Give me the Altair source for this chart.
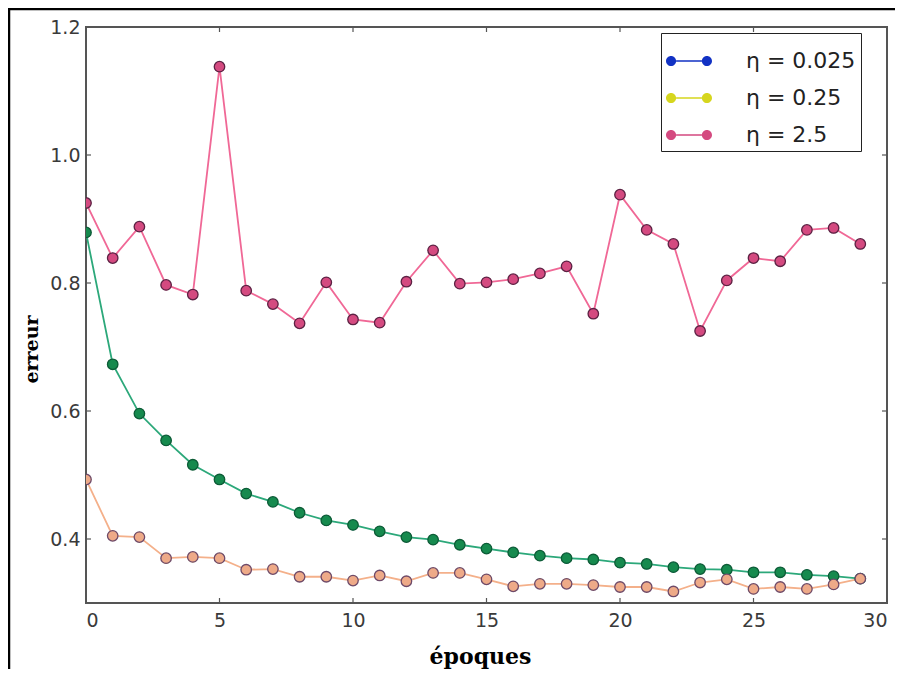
import altair as alt
import pandas as pd

epochs = list(range(30))
err_0025 = [0.879, 0.673, 0.596, 0.554, 0.516, 0.493, 0.471, 0.458, 0.441, 0.429,
            0.422, 0.412, 0.403, 0.399, 0.391, 0.385, 0.379, 0.374, 0.370, 0.368,
            0.363, 0.361, 0.356, 0.353, 0.352, 0.348, 0.348, 0.344, 0.342, 0.338]
err_025 = [0.493, 0.405, 0.403, 0.370, 0.372, 0.370, 0.352, 0.353, 0.341, 0.341,
           0.335, 0.343, 0.334, 0.347, 0.347, 0.337, 0.326, 0.330, 0.330, 0.328,
           0.325, 0.325, 0.318, 0.332, 0.337, 0.322, 0.325, 0.322, 0.329, 0.338]
err_25 = [0.925, 0.839, 0.888, 0.797, 0.782, 1.138, 0.788, 0.767, 0.737, 0.801,
          0.743, 0.738, 0.802, 0.851, 0.799, 0.801, 0.806, 0.815, 0.826, 0.752,
          0.938, 0.883, 0.861, 0.725, 0.804, 0.839, 0.834, 0.883, 0.886, 0.861]
labels = ["η = 0.025", "η = 0.25", "η = 2.5"]
x_ticks = [0, 5, 10, 15, 20, 25, 30]
y_ticks = [0.4, 0.6, 0.8, 1.0, 1.2]

legend_colors = ["#1232c4", "#d6d61e", "#d44a80"]
line_colors = ["#2ca87a", "#f4b08a", "#f06896"]
fill_colors = ["#168a4e", "#eeaa88", "#d44a80"]
edge_colors = ["#0e5c36", "#6e4a6a", "#5c2344"]

rows = []
for lab, ser in zip(labels, [err_0025, err_025, err_25]):
    for e, v in zip(epochs, ser):
        rows.append({"epoch": e, "err": v, "eta": lab})
df = pd.DataFrame(rows)
xdf = pd.DataFrame({"epoch": x_ticks})
ydf = pd.DataFrame({"err": y_ticks})
one = pd.DataFrame({"k": [0]})

W, H = 801, 576

xs = alt.Scale(domain=[0, 30], nice=False, zero=False)
ys = alt.Scale(domain=[0.3, 1.2], nice=False, zero=False)

X = alt.X("epoch:Q", scale=xs, axis=alt.Axis(
    values=x_ticks, title="époques", labelPadding=8,
    titleFont="DejaVu Serif", titleFontSize=22, titleFontWeight="bold",
    titleColor="black", titleX=394, titleY=60, titleBaseline="alphabetic"))
Y = alt.Y("err:Q", scale=ys, axis=alt.Axis(
    values=y_ticks, format=".1f", title="erreur", labelPadding=6,
    titleFont="DejaVu Serif", titleFontSize=19, titleFontWeight="bold",
    titleColor="black", titleX=-45, titleY=322))

sym_path = ("M -0.56 0 A 0.22 0.22 0 1 1 -1 0 A 0.22 0.22 0 1 1 -0.56 0 Z "
            "M 1 0 A 0.22 0.22 0 1 1 0.56 0 A 0.22 0.22 0 1 1 1 0 Z "
            "M -0.56 -0.035 L 0.56 -0.035 L 0.56 0.035 L -0.56 0.035 Z")

legend_layer = alt.Chart(df).mark_point(filled=True, size=110, opacity=1, clip=True).encode(
    x=X, y=Y,
    fill=alt.Fill("eta:N", scale=alt.Scale(domain=labels, range=legend_colors),
                  legend=alt.Legend(
                      title=None, orient="none", legendX=575, legendY=6,
                      symbolType=sym_path, symbolSize=2116, symbolStrokeWidth=0,
                      labelFont="DejaVu Sans", labelFontSize=22, labelColor="#222",
                      labelOffset=34, rowPadding=3, padding=5,
                      strokeColor="#222", fillColor="white")),
)

line_layer = alt.Chart(df).mark_line(strokeWidth=1.8, clip=True).encode(
    x="epoch:Q", y="err:Q",
    color=alt.Color("eta:N", scale=alt.Scale(domain=labels, range=line_colors), legend=None),
)

pts_layer = alt.Chart(df).mark_point(filled=True, size=110, opacity=1, strokeWidth=1.3, clip=True).encode(
    x="epoch:Q", y="err:Q",
    fill=alt.Fill("eta:N", scale=alt.Scale(domain=labels, range=fill_colors), legend=None),
    stroke=alt.Stroke("eta:N", scale=alt.Scale(domain=labels, range=edge_colors), legend=None),
)

tick_c = "#555"
tb = alt.Chart(xdf).mark_rule(color=tick_c, strokeWidth=1.2).encode(x="epoch:Q", y=alt.value(H), y2=alt.value(H - 5))
tt = alt.Chart(xdf).mark_rule(color=tick_c, strokeWidth=1.2).encode(x="epoch:Q", y=alt.value(0), y2=alt.value(5))
tl = alt.Chart(ydf).mark_rule(color=tick_c, strokeWidth=1.2).encode(y="err:Q", x=alt.value(0), x2=alt.value(5))
tr = alt.Chart(ydf).mark_rule(color=tick_c, strokeWidth=1.2).encode(y="err:Q", x=alt.value(W), x2=alt.value(W - 5))

frame_l = alt.Chart(one).mark_rule(color="black", strokeWidth=2.5).encode(
    x=alt.value(-77), y=alt.value(-18), y2=alt.value(H + 70))
frame_t = alt.Chart(one).mark_rule(color="black", strokeWidth=2.5).encode(
    x=alt.value(-78), x2=alt.value(W + 8), y=alt.value(-18))

chart = alt.layer(
    legend_layer, line_layer, pts_layer, tb, tt, tl, tr, frame_l, frame_t
).resolve_scale(
    color="independent", fill="independent", stroke="independent"
).properties(
    width=W, height=H,
    autosize=alt.AutoSizeParams(type="none"),
    padding={"left": 78, "top": 19, "right": 8, "bottom": 66},
).configure_view(
    stroke="#555", strokeWidth=2
).configure_axis(
    domain=False, ticks=False, tickSize=0, grid=False,
    labelFont="DejaVu Sans", labelFontSize=19, labelColor="#3a3a3a",
)

chart.save("out.html", embed_options={"renderer": "svg", "actions": False})
